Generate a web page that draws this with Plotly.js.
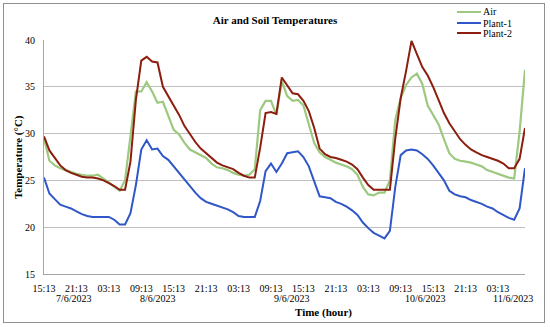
<!DOCTYPE html>
<html>
<head>
<meta charset="utf-8">
<script src="https://cdn.plot.ly/plotly-3.0.1.min.js"></script>
<style>
  html, body { margin: 0; padding: 0; background: #fff; }
  #wrap { position: relative; width: 550px; height: 327px; }
  #chart { width: 550px; height: 327px; }
  #frame { position: absolute; left: 3px; top: 3px; width: 542px; height: 320px;
           box-sizing: border-box; border: 1px solid #8f8f8f; pointer-events: none; }
</style>
</head>
<body>
<div id="wrap"><div id="chart"></div><div id="frame"></div></div>
<script>
// ---- data (hourly readings starting 7/6/2023 15:13) ----
const seriesNames = ["Air", "Plant-1", "Plant-2"];

const airTemp = [
  29.5, 27.1, 26.6, 26.3, 26.1, 25.9, 25.7, 25.6, 25.5, 25.5,
  25.6, 25.2, 24.8, 24.3, 23.9, 25.0, 30.0, 34.5, 34.5, 35.5,
  34.5, 33.3, 33.4, 32.0, 30.4, 29.9, 29.0, 28.3, 28.0, 27.7,
  27.4, 26.8, 26.4, 26.3, 26.1, 25.8, 25.6, 25.5, 25.6, 26.2,
  32.5, 33.5, 33.5, 32.0, 35.6, 34.0, 33.5, 33.6, 33.0, 31.0,
  29.0, 28.0, 27.5, 27.2, 26.9, 26.7, 26.5, 26.2, 25.6, 24.3,
  23.5, 23.4, 23.7, 23.7, 25.0, 31.5, 33.8, 35.2, 36.0, 36.4,
  35.3, 33.0, 32.0, 31.0, 29.4, 27.9, 27.3, 27.1, 27.0, 26.9,
  26.7, 26.5, 26.1, 25.9, 25.7, 25.5, 25.3, 25.2, 30.2, 36.8
];

const plant1Temp = [
  25.3, 23.6, 23.0, 22.4, 22.2, 22.0, 21.7, 21.4, 21.2, 21.1,
  21.1, 21.1, 21.1, 20.8, 20.3, 20.3, 21.5, 24.5, 28.3, 29.3,
  28.3, 28.4, 27.6, 27.2, 26.5, 25.8, 25.0, 24.3, 23.7, 23.1,
  22.7, 22.5, 22.3, 22.1, 21.9, 21.6, 21.2, 21.1, 21.1, 21.1,
  22.8, 26.0, 26.8, 25.9, 26.8, 27.9, 28.0, 28.1, 27.5, 26.5,
  24.9, 23.3, 23.2, 23.1, 22.7, 22.5, 22.2, 21.8, 21.3, 20.5,
  19.9, 19.4, 19.1, 18.8, 19.6, 24.3, 27.7, 28.2, 28.3, 28.2,
  27.8, 27.3, 26.6, 25.8, 25.0, 23.9, 23.5, 23.3, 23.2, 22.9,
  22.7, 22.5, 22.2, 22.0, 21.6, 21.3, 21.0, 20.8, 22.0, 26.3
];

const plant2Temp = [
  29.7, 28.2, 27.4, 26.6, 26.1, 25.8, 25.6, 25.4, 25.3, 25.3,
  25.2, 25.0, 24.7, 24.4, 24.0, 24.0, 27.0, 33.6, 37.8, 38.2,
  37.7, 37.6, 35.0, 34.0, 33.0, 32.0, 30.8, 29.9, 29.1, 28.4,
  27.9, 27.3, 26.9, 26.6, 26.4, 26.2, 25.8, 25.5, 25.3, 25.3,
  28.5, 32.2, 32.3, 32.1, 36.0, 35.2, 34.3, 34.2, 33.5, 32.4,
  30.6, 28.4, 27.8, 27.5, 27.4, 27.2, 27.0, 26.7, 26.2, 25.3,
  24.5, 24.0, 24.0, 24.0, 24.0, 29.5, 33.8, 36.7, 39.9, 38.5,
  37.1, 36.2, 35.0, 33.6, 32.2, 31.1, 30.2, 29.4, 28.8, 28.3,
  28.0, 27.7, 27.5, 27.3, 27.1, 26.8, 26.3, 26.3, 27.3, 30.6
];

// tick labels every 6 hours from the start
const tickHours  = [0, 6, 12, 18, 24, 30, 36, 42, 48, 54, 60, 66, 72, 78, 84];
const tickLabels = ["15:13","21:13","03:13","09:13","15:13","21:13","03:13","09:13",
                    "15:13","21:13","03:13","09:13","15:13","21:13","03:13"];
// date labels (second row) and the hour at which each is centred
const dateLabels = ["7/6/2023", "8/6/2023", "9/6/2023", "10/6/2023", "11/6/2023"];
const dateHours  = [5.6, 21.1, 45.9, 70.5, 86.8];

const colors = ["#9cc97f", "#3057c8", "#8b1e0e"];

// ---- layout helpers ----
const W = 550, H = 327;
const M = { l: 44, r: 25, t: 40, b: 53 };
const PW = W - M.l - M.r, PH = H - M.t - M.b;
const px2x = px => (px - M.l) / PW;
const px2y = py => (H - M.b - py) / PH;

const hours = airTemp.map((_, i) => i);
const seriesData = [airTemp, plant1Temp, plant2Temp];

const traces = seriesData.map((vals, i) => ({
  type: "scatter", mode: "lines", name: seriesNames[i],
  x: hours, y: vals,
  line: { color: colors[i], width: i === 0 ? 2.2 : 2, shape: "linear" },
  hoverinfo: "x+y+name"
}));

const serif = "Liberation Serif, Times New Roman, serif";

const annotations = [
  { text: "<b>Temperature (°C)</b>", xref: "paper", yref: "paper",
    x: px2x(18), y: 0.5, xanchor: "center", yanchor: "middle", textangle: -90, showarrow: false,
    font: { family: serif, size: 11, color: "#000" } },
  { text: "<b>Time (hour)</b>", xref: "paper", yref: "paper",
    x: px2x(323), y: px2y(312), xanchor: "center", yanchor: "middle", showarrow: false,
    font: { family: serif, size: 11, color: "#000" } }
];
dateLabels.forEach((d, i) => annotations.push({
  text: d, xref: "x", yref: "paper", x: dateHours[i], y: px2y(298),
  xanchor: "center", yanchor: "middle",
  showarrow: false, font: { family: serif, size: 10, color: "#000" }
}));

// manual compact legend
const shapes = [];
const legendRows = [12, 23, 33];
seriesNames.forEach((n, i) => {
  shapes.push({ type: "line", xref: "paper", yref: "paper",
    x0: px2x(457), x1: px2x(481), y0: px2y(legendRows[i]), y1: px2y(legendRows[i]),
    line: { color: colors[i], width: 2 } });
  annotations.push({ text: n, xref: "paper", yref: "paper",
    x: px2x(481), y: px2y(legendRows[i]), xanchor: "left", yanchor: "middle",
    showarrow: false, font: { family: serif, size: 10, color: "#000" } });
});

const layout = {
  width: W, height: H, margin: M,
  paper_bgcolor: "#fff", plot_bgcolor: "#fff",
  showlegend: false,
  title: { text: "<b>Air and Soil Temperatures</b>", x: 0.5, xref: "container",
           y: 1 - 20 / H, yanchor: "middle",
           font: { family: serif, size: 11, color: "#000" } },
  xaxis: {
    range: [0, hours.length - 1], tickmode: "array", tickvals: tickHours, ticktext: tickLabels,
    showgrid: false, zeroline: false, showline: true, linecolor: "#a6a6a6", linewidth: 1,
    ticks: "", ticklabelstandoff: 5, tickfont: { family: serif, size: 10, color: "#000" }
  },
  yaxis: {
    range: [15, 40], tickvals: [15, 20, 25, 30, 35, 40],
    showgrid: true, gridcolor: "#bfbfbf", gridwidth: 1, zeroline: false,
    showline: true, linecolor: "#a6a6a6", linewidth: 1, ticks: "",
    ticklabelstandoff: 6, tickfont: { family: serif, size: 10, color: "#000" }
  },
  annotations: annotations,
  shapes: shapes
};

Plotly.newPlot("chart", traces, layout, { displayModeBar: false, staticPlot: true });
</script>
</body>
</html>
